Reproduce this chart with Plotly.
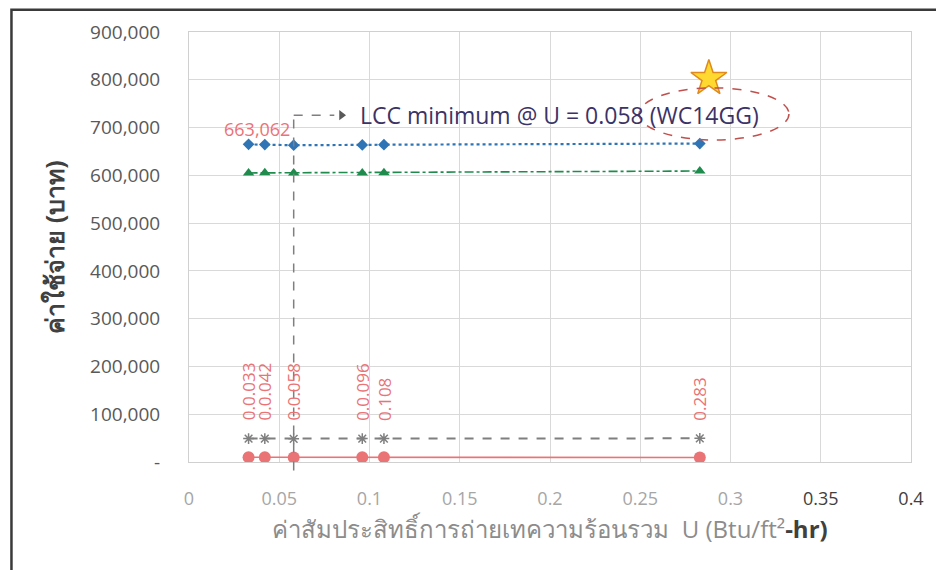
import plotly.graph_objects as go

# Overall heat transfer coefficient U (Btu/ft2-hr) of each wall option
u_values = [0.033, 0.042, 0.058, 0.096, 0.108, 0.283]
u_labels = ["0.0.033", "0.0.042", "0.0.058", "0.0.096", "0.108", "0.283"]

# Cost series (Baht)
lcc_total = [664800, 664300, 663062, 663700, 664100, 666500]
energy_cost = [605000, 605200, 604800, 605100, 605300, 609000]
maintenance_cost = [49000, 49000, 48500, 49000, 49000, 49500]
initial_cost = [10000, 10000, 9500, 10000, 10000, 9500]

# Axis ticks
x_ticks = [0, 0.05, 0.1, 0.15, 0.2, 0.25, 0.3, 0.35, 0.4]
x_ticktext = [
    "<span style='color:#a6a6a6'>0</span>",
    "<span style='color:#a6a6a6'>0.05</span>",
    "<span style='color:#a6a6a6'>0.1</span>",
    "<span style='color:#a6a6a6'>0.15</span>",
    "<span style='color:#a6a6a6'>0.2</span>",
    "<span style='color:#a6a6a6'>0.25</span>",
    "<span style='color:#a6a6a6'>0.3</span>",
    "<span style='color:#404040'>0.35</span>",
    "<span style='color:#404040'>0.4</span>",
]
y_ticks = [0, 100000, 200000, 300000, 400000, 500000, 600000, 700000, 800000, 900000]
y_ticktext = ["-"] + [f"{v:,}" for v in y_ticks[1:]]

# Minimum life-cycle cost point
min_idx = lcc_total.index(min(lcc_total))
u_min = u_values[min_idx]
lcc_min = lcc_total[min_idx]

# Callout geometry (data units)
callout_y = 726000
arrow_tip_x = 0.0845
text_x = 0.0935
star_y = 803000
ellipse_box = dict(x0=0.2494, x1=0.3324, y0=674000, y1=783000)

FONT = "Open Sans, Noto Sans, sans-serif"
RED = "#ea7376"
BLUE = "#2f74b5"
GREEN = "#1f8b4d"
GRAY = "#7f7f7f"

fig = go.Figure()

fig.add_trace(go.Scatter(
    x=u_values, y=lcc_total, name="LCC", mode="lines+markers",
    line=dict(color=BLUE, width=2.2, dash="dot"),
    marker=dict(symbol="diamond", size=9, color=BLUE),
))
fig.add_trace(go.Scatter(
    x=u_values, y=energy_cost, name="Energy", mode="lines+markers",
    line=dict(color=GREEN, width=1.6, dash="dashdot"),
    marker=dict(symbol="triangle-up", size=10, color=GREEN),
))
fig.add_trace(go.Scatter(
    x=u_values, y=maintenance_cost, name="Maintenance", mode="lines+markers",
    line=dict(color=GRAY, width=2, dash="dash"),
    marker=dict(symbol="asterisk-open", size=9, line=dict(color=GRAY, width=1.5)),
))
fig.add_trace(go.Scatter(
    x=u_values, y=initial_cost, name="Initial", mode="lines+markers",
    line=dict(color=RED, width=1.6),
    marker=dict(symbol="circle", size=12, color=RED),
))

# Arrow head of the callout
fig.add_trace(go.Scatter(
    x=[arrow_tip_x], y=[callout_y], mode="markers", hoverinfo="skip",
    marker=dict(symbol="triangle-right", size=9, color="#595959"),
))

# Star highlight
fig.add_trace(go.Scatter(
    x=[u_values[-1] + 0.005], y=[star_y], mode="markers", hoverinfo="skip",
    marker=dict(symbol="star", size=27, color="#ffd92f",
                line=dict(color="#e08a1e", width=1.5)),
))

shapes = [
    # outer frame
    dict(type="rect", xref="paper", yref="paper", x0=-0.2459, x1=1.06, y0=-0.28, y1=1.052,
         line=dict(color="#3a3a3a", width=2.5), layer="above"),
    # callout: vertical dashed leg from the minimum point
    dict(type="line", xref="x", yref="paper", x0=u_min, x1=u_min, y0=-0.02,
         y1=callout_y / 900000, line=dict(color=GRAY, width=1.5, dash="dash")),
    # callout: horizontal dashed leg
    dict(type="line", xref="x", yref="y", x0=u_min, x1=arrow_tip_x - 0.004,
         y0=callout_y, y1=callout_y, line=dict(color=GRAY, width=1.5, dash="dash")),
    # dashed ellipse round the wall code
    dict(type="circle", xref="x", yref="y", **ellipse_box,
         line=dict(color="#c0504d", width=1.5, dash="dash")),
]

annotations = [
    dict(x=text_x, y=callout_y, xref="x", yref="y", xanchor="left", yanchor="middle",
         text="LCC minimum @ U = 0.058 (WC14GG)", showarrow=False,
         font=dict(family=FONT, size=23, color="#3b3366")),
    dict(x=u_min, y=lcc_min, xref="x", yref="y", xanchor="right", yanchor="middle",
         xshift=-2, yshift=16, text=f"{lcc_min:,}", showarrow=False,
         font=dict(family=FONT, size=18, color=RED)),
]
for ux, lab, yv in zip(u_values, u_labels, maintenance_cost):
    annotations.append(dict(
        x=ux, y=yv, xref="x", yref="y", xanchor="center", yanchor="bottom",
        yshift=16, text=lab, textangle=-90, showarrow=False,
        font=dict(family=FONT, size=17, color=RED),
    ))

fig.update_layout(
    width=936, height=570,
    margin=dict(l=189, r=23, t=32, b=108),
    paper_bgcolor="white", plot_bgcolor="white",
    showlegend=False,
    shapes=shapes, annotations=annotations,
    font=dict(family=FONT),
    xaxis=dict(
        range=[0, 0.4], tickvals=x_ticks, ticktext=x_ticktext,
        showgrid=True, gridcolor="#d9d9d9", gridwidth=1, zeroline=False,
        showline=True, linecolor="#d0d0d0", mirror=True, ticks="",
        tickfont=dict(family=FONT, size=18), ticklabelstandoff=20,
        title=dict(
            text="ค่าสัมประสิทธิ์การถ่ายเทความร้อนรวม  U (Btu/ft²<b><span style='color:#404040'>-hr)</span></b>",
            font=dict(family=FONT, size=24, color="#8c8c8c"), standoff=12,
        ),
    ),
    yaxis=dict(
        range=[0, 900000], tickvals=y_ticks, ticktext=y_ticktext,
        showgrid=True, gridcolor="#d9d9d9", gridwidth=1, zeroline=False,
        showline=True, linecolor="#d0d0d0", mirror=True, ticks="",
        tickfont=dict(family=FONT, size=19, color="#595959"), ticklabelstandoff=24,
        title=dict(
            text="<b>ค่าใช้จ่าย (บาท)</b>",
            font=dict(family=FONT, size=25, color="#404040"), standoff=18,
        ),
    ),
)

fig.write_html("out.html")
